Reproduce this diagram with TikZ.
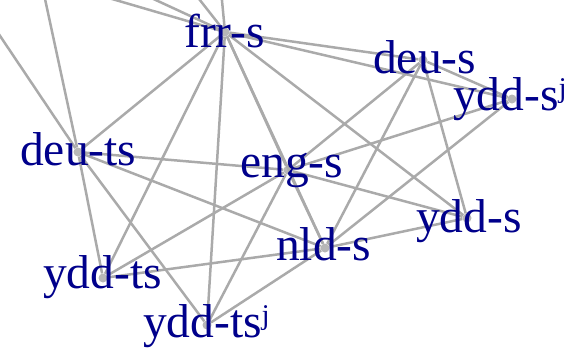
\documentclass[tikz,border=0pt]{standalone}
\usepackage{fontspec}
\setmainfont{Liberation Serif}
\definecolor{lblue}{RGB}{0,0,139}
\definecolor{edgegray}{RGB}{170,170,170}
\begin{document}
\begin{tikzpicture}[x=1bp,y=-1bp,
  edge/.style={draw=edgegray, line width=2.5bp},
  vert/.style={circle, fill=edgegray!85, inner sep=0pt, minimum size=9bp},
  lbl/.style={anchor=base west, inner sep=0pt, text=lblue, font=\fontsize{47.5bp}{52bp}\selectfont}]
\useasboundingbox (0,0) rectangle (574,358);
\begin{scope}
\clip (0,0) rectangle (574,358);
\coordinate (o1) at (-16,12);
\coordinate (o2) at (42,-15);
\coordinate (o3) at (95,-6);
\coordinate (o4) at (134,-10);
\coordinate (o5) at (192,-10);
\coordinate (o6) at (221,-10);
\node[vert] (frr) at (225,32) {};
\node[vert] (deus) at (423,60) {};
\node[vert] (yddsj) at (512,99) {};
\node[vert] (engs) at (288,170) {};
\node[vert] (ydds) at (467,218) {};
\node[vert] (nlds) at (325,248) {};
\node[vert] (deuts) at (78,152) {};
\node[vert] (yddts) at (103,278) {};
\node[vert] (yddtsj) at (207,325) {};
\foreach \a/\b in {frr/deus, frr/yddsj, frr/ydds, frr/engs, frr/nlds, frr/deuts, frr/yddts, frr/yddtsj,
  frr/o3, frr/o4, frr/o5, frr/o6,
  deus/yddsj, deus/engs, deus/nlds, deus/ydds,
  yddsj/engs, yddsj/nlds,
  engs/ydds, engs/nlds, engs/deuts, engs/yddts, engs/yddtsj,
  ydds/nlds, nlds/deuts, nlds/yddts, nlds/yddtsj,
  deuts/yddts, deuts/yddtsj, deuts/o1, deuts/o2}
  \draw[edge] (\a) -- (\b);
\end{scope}
\node[lbl] (frrL) at (184,47) {frr-s};
\node[lbl] (deusL) at (373,73) {deu-s};
\node[lbl] (yddsjL) at (453,110) {ydd-sʲ};
\node[lbl] (deutsL) at (20,165) {deu-ts};
\node[lbl] (engsL) at (240,177) {eng-s};
\node[lbl] (yddsL) at (416,232) {ydd-s};
\node[lbl] (nldsL) at (276,260) {nld-s};
\node[lbl] (yddtsL) at (43,288) {ydd-ts};
\node[lbl] (yddtsjL) at (143,337) {ydd-tsʲ};
\end{tikzpicture}
\end{document}
